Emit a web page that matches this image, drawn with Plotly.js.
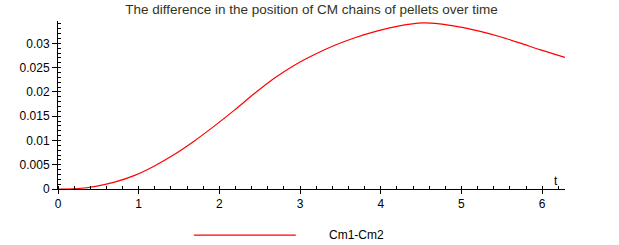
<!DOCTYPE html>
<html>
<head>
<meta charset="utf-8">
<script src="https://cdn.plot.ly/plotly-3.0.1.min.js"></script>
<style>html,body{margin:0;padding:0;background:#fff;}#chart{width:619px;height:245px;}</style>
</head>
<body>
<div id="chart"></div>
<script>
// Values
const tValues = [0, 0.25, 0.45, 0.70, 0.95, 1.19, 1.44, 1.69, 1.94, 2.19, 2.43, 2.68, 2.93, 3.18, 3.43, 3.67, 3.95, 4.23, 4.52, 4.73, 4.97, 5.22, 5.47, 5.72, 5.97, 6.2832];
const diffValues = [0, 0.0001, 0.0005, 0.0014, 0.0028, 0.0047, 0.0071, 0.0099, 0.0130, 0.0163, 0.0196, 0.0228, 0.0255, 0.0277, 0.0296, 0.0311, 0.0325, 0.0336, 0.0342, 0.0340, 0.0334, 0.0325, 0.0314, 0.0301, 0.0287, 0.0271];
const seriesName = "Cm1-Cm2";
const xTickVals = [0, 1, 2, 3, 4, 5, 6];
const xTickText = ["0", "1", "2", "3", "4", "5", "6"];
const yTickVals = [0, 0.005, 0.01, 0.015, 0.02, 0.025, 0.03];
const yTickText = ["0", "0.005", "0.01", "0.015", "0.02", "0.025", "0.03"];
const chartTitle = "The difference in the position of CM chains of pellets over time";
const xLabel = "t";

const FONT = "Liberation Sans, Arial, sans-serif";

const trace = {
  x: tValues, y: diffValues, type: "scatter", mode: "lines",
  name: seriesName,
  line: {color: "#ff0000", width: 1.2, shape: "spline", smoothing: 0.9},
  showlegend: false, hoverinfo: "skip"
};

const layout = {
  width: 619, height: 245,
  margin: {l: 58, r: 54, t: 21, b: 56, pad: 0},
  paper_bgcolor: "#fff", plot_bgcolor: "#fff",
  font: {family: FONT, size: 12, color: "#000"},
  title: {
    text: chartTitle, x: 0.5, xref: "paper", y: 0.962, yref: "container",
    xanchor: "center", yanchor: "middle",
    font: {family: FONT, size: 13.5, color: "#33331a"}
  },
  xaxis: {
    range: [0, 6.2832], showgrid: false, zeroline: false,
    showline: true, linecolor: "#000", linewidth: 1,
    tickmode: "array", tickvals: xTickVals, ticktext: xTickText,
    ticks: "outside", ticklen: 4, tickcolor: "#000", tickwidth: 1,
    tickfont: {family: FONT, size: 12, color: "#000"},
    minor: {ticks: "inside", dtick: 0.2, tick0: 0, ticklen: 3, tickcolor: "#000", showgrid: false}
  },
  yaxis: {
    range: [0, 0.0346], showgrid: false, zeroline: false,
    showline: true, linecolor: "#000", linewidth: 1,
    tickmode: "array", tickvals: yTickVals, ticktext: yTickText,
    ticks: "outside", ticklen: 5, tickcolor: "#000", tickwidth: 1,
    tickfont: {family: FONT, size: 12, color: "#000"},
    minor: {ticks: "inside", dtick: 0.001, tick0: 0, ticklen: 3, tickcolor: "#000", showgrid: false}
  },
  annotations: [
    {text: xLabel, xref: "paper", yref: "paper", x: 0.982, y: 0.045,
     xanchor: "center", yanchor: "middle", showarrow: false,
     font: {family: FONT, size: 12, color: "#000"}},
    {text: seriesName, xref: "paper", yref: "paper", x: 0.588, y: -0.274,
     xanchor: "center", yanchor: "middle", showarrow: false,
     font: {family: FONT, size: 12, color: "#000"}}
  ],
  shapes: [
    {type: "line", xref: "paper", yref: "paper", x0: 0.268, x1: 0.469, y0: -0.274, y1: -0.274,
     line: {color: "#ff0000", width: 1.2}}
  ]
};

Plotly.newPlot("chart", [trace], layout, {staticPlot: true, displayModeBar: false});
</script>
</body>
</html>
